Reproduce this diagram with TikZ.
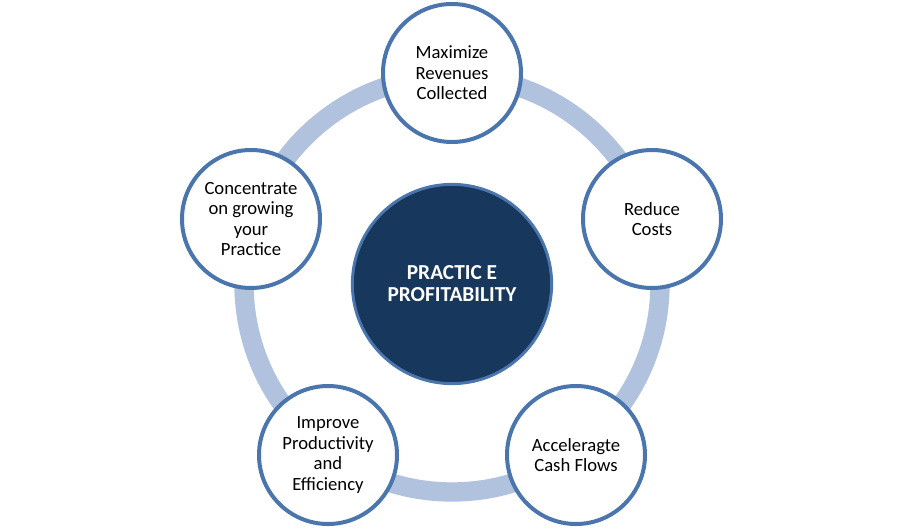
\documentclass[tikz,border=0pt]{standalone}
\usepackage{fontspec}
\setmainfont{Carlito}
\usepackage{tikz}

\definecolor{rimblue}{HTML}{4A76AD}
\definecolor{ringblue}{HTML}{B0C2DE}
\definecolor{coreblue}{HTML}{18375D}

\begin{document}
\begin{tikzpicture}[
    x=0.75pt, y=-0.75pt,
    goal/.style={circle, minimum size=103.5pt, inner sep=0pt, align=center, draw=rimblue, line width=3pt, fill=white, font=\fontsize{14}{15.4}\selectfont},
    core/.style={circle, minimum size=149.5pt, inner sep=0pt, align=center, draw=rimblue, line width=2.2pt, fill=coreblue, text=white, font=\fontsize{16}{16.5}\selectfont\bfseries},
    ring/.style={draw=ringblue, line width=14.5pt}
]
\useasboundingbox (0,0) rectangle (904,531);

% Ring behind the goals
\coordinate (mid) at (452,284);
\draw[ring] (mid) circle[radius=156pt];

% Centre
\node[core] (core) at (mid) {PRACTIC E\\PROFITABILITY};

% Goals around the ring
\node[goal] (goal1) at (452,73) {Maximize\\Revenues\\Collected};
\node[goal] (goal2) at (652,219) {Reduce\\Costs};
\node[goal] (goal3) at (576,455) {Acceleragte\\Cash Flows};
\node[goal] (goal4) at (328,455) {Improve\\Productivity\\and\\Efficiency};
\node[goal] (goal5) at (251,219) {Concentrate\\on growing\\your\\Practice};

\end{tikzpicture}
\end{document}
